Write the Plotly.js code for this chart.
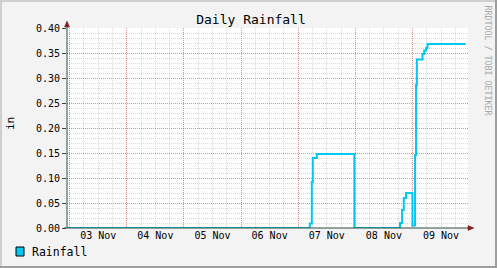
<!DOCTYPE html>
<html>
<head>
<meta charset="utf-8">
<script src="https://cdn.plot.ly/plotly-3.0.1.min.js"></script>
<style>
html,body{margin:0;padding:0;background:#F3F3F3;}
#chart{width:497px;height:268px;}
</style>
</head>
<body>
<div id="chart"></div>
<script>
// ---- data ----
const times = [
  '2023-11-02 22:54', '2023-11-07 04:52', '2023-11-07 05:43', '2023-11-07 06:08',
  '2023-11-07 07:49', '2023-11-07 23:35', '2023-11-08 18:46', '2023-11-08 19:37',
  '2023-11-08 20:20', '2023-11-08 21:18', '2023-11-08 23:58', '2023-11-09 01:05',
  '2023-11-09 01:30', '2023-11-09 01:50', '2023-11-09 04:12', '2023-11-09 04:55',
  '2023-11-09 05:45', '2023-11-09 06:18', '2023-11-09 22:20'
];
const rainfall = [
  0, 0.009, 0.092, 0.14,
  0.148, 0, 0.01, 0.036,
  0.06, 0.07, 0.005, 0.146,
  0.286, 0.337, 0.348, 0.355,
  0.36, 0.368, 0.368
];
const seriesName = 'Rainfall';
const yTicks = [0, 0.05, 0.10, 0.15, 0.20, 0.25, 0.30, 0.35, 0.40];
const xRange = ['2023-11-02 22:54', '2023-11-09 23:19'];
const yRange = [0, 0.4];

// ---- layout helpers (pixel -> paper) ----
const W = 497, H = 268, L = 67, R = 29, T = 28, B = 40;
const PW = W - L - R, PH = H - T - B;
const px = x => (x - L) / PW;
const py = y => (H - B - y) / PH;

const mono = 'DejaVu Sans Mono, monospace';
const lineColor = '#00C8F0';
const axisColor = '#2C4D43';
const arrowColor = '#7F1F1F';
const minorGrid = 'rgba(165,165,165,0.42)';
const majorGrid = 'rgba(255,40,40,0.45)';

const shapes = [
  // frame shading
  {type:'rect', xref:'paper', yref:'paper', x0:px(0), x1:px(W), y0:py(0), y1:py(2), fillcolor:'#CFCFCF', line:{width:0}},
  {type:'rect', xref:'paper', yref:'paper', x0:px(0), x1:px(2), y0:py(0), y1:py(H), fillcolor:'#CFCFCF', line:{width:0}},
  {type:'rect', xref:'paper', yref:'paper', x0:px(W-2), x1:px(W), y0:py(0), y1:py(H), fillcolor:'#9E9E9E', line:{width:0}},
  {type:'rect', xref:'paper', yref:'paper', x0:px(0), x1:px(W), y0:py(H-2), y1:py(H), fillcolor:'#9E9E9E', line:{width:0}},
  // axes
  {type:'line', xref:'paper', yref:'paper', x0:px(67), x1:px(67), y0:py(228), y1:py(24), line:{color:axisColor, width:1}},
  {type:'line', xref:'paper', yref:'paper', x0:px(64), x1:px(470), y0:py(228), y1:py(228), line:{color:axisColor, width:1}},
  // arrows
  {type:'path', xref:'paper', yref:'paper',
   path:`M ${px(64.5)} ${py(27)} L ${px(69.5)} ${py(27)} L ${px(67)} ${py(21)} Z`,
   fillcolor:arrowColor, line:{color:arrowColor, width:0.5}},
  {type:'path', xref:'paper', yref:'paper',
   path:`M ${px(468)} ${py(225.5)} L ${px(468)} ${py(230.5)} L ${px(474)} ${py(228)} Z`,
   fillcolor:arrowColor, line:{color:arrowColor, width:0.5}},
  // legend swatch
  {type:'rect', xref:'paper', yref:'paper', x0:px(16), x1:px(24), y0:py(247), y1:py(256),
   fillcolor:lineColor, line:{color:'#000000', width:1}}
];

const annotations = [
  {xref:'paper', yref:'paper', x:px(30), y:py(252), xanchor:'left', yanchor:'middle',
   text:seriesName, showarrow:false, font:{family:mono, size:11.5, color:'#000'}},
  {xref:'paper', yref:'paper', x:px(10), y:py(124), xanchor:'center', yanchor:'middle',
   text:'in', textangle:-90, showarrow:false, font:{family:mono, size:11, color:'#000'}},
  {xref:'paper', yref:'paper', x:px(487.5), y:py(60), xanchor:'center', yanchor:'middle',
   text:'RRDTOOL / TOBI OETIKER', textangle:90, showarrow:false,
   font:{family:mono, size:8.3, color:'#A8A8A8'}}
];

const trace = {
  x: times, y: rainfall, type:'scatter', mode:'lines', name:seriesName,
  xaxis:'x', yaxis:'y',
  line:{shape:'hv', color:lineColor, width:2}, hoverinfo:'skip'
};

const layout = {
  width:W, height:H,
  margin:{l:L, r:R, t:T, b:B, pad:0},
  paper_bgcolor:'#F3F3F3', plot_bgcolor:'#FFFFFF',
  showlegend:false,
  title:{text:'Daily Rainfall', xref:'container', yref:'container',
         x:251/W, y:1 - 19/H, xanchor:'center', yanchor:'middle',
         font:{family:mono, size:13, color:'#000'}},
  // base axes: fine grey grid only
  xaxis:{
    type:'date', range:xRange, dtick:6*3600000, showticklabels:false,
    showline:false, zeroline:false, ticks:'',
    showgrid:true, gridcolor:minorGrid, griddash:'1px,1px', gridwidth:1, fixedrange:true
  },
  yaxis:{
    range:yRange, dtick:0.01, showticklabels:false,
    showline:false, zeroline:false, ticks:'',
    showgrid:true, gridcolor:minorGrid, griddash:'1px,1px', gridwidth:1, fixedrange:true
  },
  // overlay axes: red major grid and labels
  xaxis2:{
    type:'date', range:xRange, dtick:86400000, tickformat:'%d %b',
    ticklabelmode:'period', overlaying:'x', side:'bottom', anchor:'y',
    showline:false, zeroline:false, ticks:'',
    showgrid:true, gridcolor:majorGrid, griddash:'1px,1px', gridwidth:1,
    tickfont:{family:mono, size:10, color:'#000'}, fixedrange:true
  },
  yaxis2:{
    range:yRange, tickvals:yTicks, tickformat:'.2f', overlaying:'y', side:'left', anchor:'x',
    showline:false, zeroline:false, ticks:'outside', ticklen:4, tickcolor:axisColor,
    showgrid:true, gridcolor:majorGrid, griddash:'1px,1px', gridwidth:1,
    tickfont:{family:mono, size:10, color:'#000'}, fixedrange:true
  },
  shapes:shapes, annotations:annotations
};

// an invisible companion trace so the overlay axes are drawn
const ghost = {x: xRange, y: yRange, xaxis:'x2', yaxis:'y2', type:'scatter', mode:'none',
               hoverinfo:'skip', showlegend:false};

Plotly.newPlot('chart', [ghost, trace], layout, {displayModeBar:false, staticPlot:true});
</script>
</body>
</html>
